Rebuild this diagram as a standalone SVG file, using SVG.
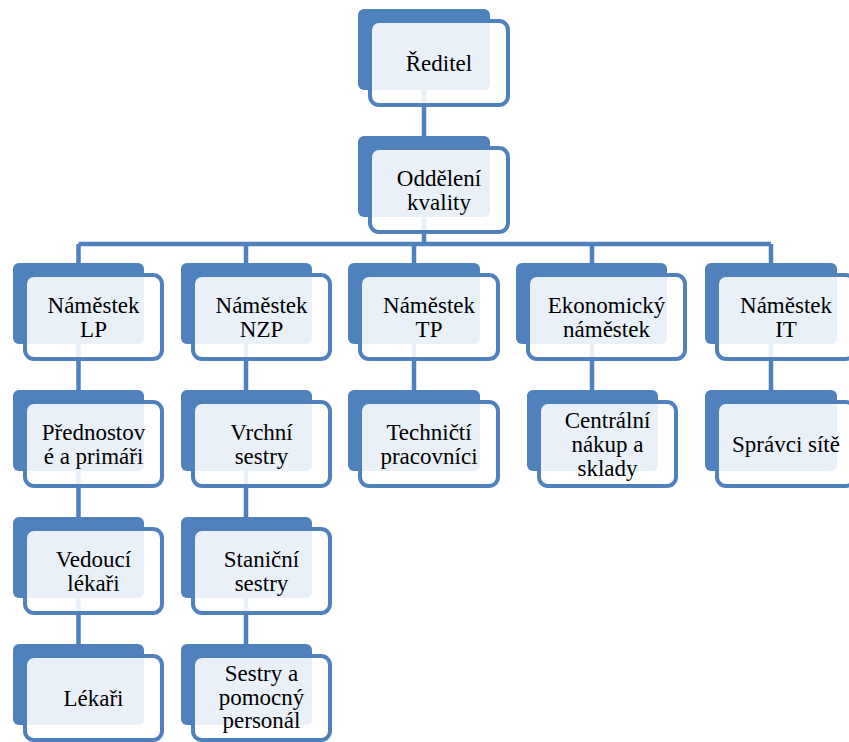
<svg xmlns="http://www.w3.org/2000/svg" width="849" height="742" viewBox="0 0 849 742">
<style>
.back{fill:#4f81bd;}
.front{fill:#ffffff;fill-opacity:0.88;stroke:#4f81bd;stroke-width:4;}
.conn{stroke:#4f81bd;stroke-width:4.5;fill:none;}
.t{font-size:23px;fill:#000000;text-anchor:middle;}
</style>
<rect width="849" height="742" fill="#ffffff"/>
<g id="connectors">
<path class="conn" d="M424 90V136M424 217V244M78.5 244H771M78.5 244V263M246 244V263M414 244V263M592 244V263M771 244V263"/>
<path class="conn" d="M78.5 344V390M78.5 471V517M78.5 598V644M246 344V390M246 471V517M246 598V644M414 344V390M592 344V390M771 344V390"/>
</g>
<g font-family="Liberation Serif, Times New Roman, serif" class="t">
<g id="reditel"><rect class="back" x="358" y="9" width="132" height="81" rx="6"/><rect class="front" x="370" y="21" width="138" height="84" rx="9"/><text x="439" y="71">Ředitel</text></g>
<g id="oddeleni-kvality"><rect class="back" x="358" y="136" width="132" height="81" rx="6"/><rect class="front" x="370" y="148" width="138" height="84" rx="9"/><text x="439" y="186">Oddělení</text><text x="439" y="209.5">kvality</text></g>
<g id="namestek-lp"><rect class="back" x="13" y="263" width="131" height="81" rx="6"/><rect class="front" x="25" y="275" width="137" height="84" rx="9"/><text x="93.5" y="313">Náměstek</text><text x="93.5" y="336.5">LP</text></g>
<g id="namestek-nzp"><rect class="back" x="181" y="263" width="131" height="81" rx="6"/><rect class="front" x="193" y="275" width="137" height="84" rx="9"/><text x="261.5" y="313">Náměstek</text><text x="261.5" y="336.5">NZP</text></g>
<g id="namestek-tp"><rect class="back" x="348" y="263" width="132" height="81" rx="6"/><rect class="front" x="360" y="275" width="138" height="84" rx="9"/><text x="429" y="313">Náměstek</text><text x="429" y="336.5">TP</text></g>
<g id="ekonomicky-namestek"><rect class="back" x="516" y="263" width="151" height="81" rx="6"/><rect class="front" x="528" y="275" width="157" height="84" rx="9"/><text x="606.5" y="313">Ekonomický</text><text x="606.5" y="336.5">náměstek</text></g>
<g id="namestek-it"><rect class="back" x="705" y="263" width="132" height="81" rx="6"/><rect class="front" x="717" y="275" width="138" height="84" rx="9"/><text x="786" y="313">Náměstek</text><text x="786" y="336.5">IT</text></g>
<g id="prednostove"><rect class="back" x="13" y="390" width="131" height="81" rx="6"/><rect class="front" x="25" y="402" width="137" height="84" rx="9"/><text x="93.5" y="440">Přednostov</text><text x="93.5" y="463.5">é a primáři</text></g>
<g id="vrchni-sestry"><rect class="back" x="181" y="390" width="131" height="81" rx="6"/><rect class="front" x="193" y="402" width="137" height="84" rx="9"/><text x="261.5" y="440">Vrchní</text><text x="261.5" y="463.5">sestry</text></g>
<g id="technicti-pracovnici"><rect class="back" x="348" y="390" width="132" height="81" rx="6"/><rect class="front" x="360" y="402" width="138" height="84" rx="9"/><text x="429" y="440">Techničtí</text><text x="429" y="463.5">pracovníci</text></g>
<g id="centralni-nakup"><rect class="back" x="527" y="390" width="131" height="81" rx="6"/><rect class="front" x="539" y="402" width="137" height="84" rx="9"/><text x="607.5" y="428">Centrální</text><text x="607.5" y="452">nákup a</text><text x="607.5" y="476">sklady</text></g>
<g id="spravci-site"><rect class="back" x="705" y="390" width="132" height="81" rx="6"/><rect class="front" x="717" y="402" width="138" height="84" rx="9"/><text x="786" y="452">Správci sítě</text></g>
<g id="vedouci-lekari"><rect class="back" x="13" y="517" width="131" height="81" rx="6"/><rect class="front" x="25" y="529" width="137" height="84" rx="9"/><text x="93.5" y="567">Vedoucí</text><text x="93.5" y="590.5">lékaři</text></g>
<g id="stanicni-sestry"><rect class="back" x="181" y="517" width="131" height="81" rx="6"/><rect class="front" x="193" y="529" width="137" height="84" rx="9"/><text x="261.5" y="567">Staniční</text><text x="261.5" y="590.5">sestry</text></g>
<g id="lekari"><rect class="back" x="13" y="644" width="131" height="81" rx="6"/><rect class="front" x="25" y="656" width="137" height="84" rx="9"/><text x="93.5" y="706">Lékaři</text></g>
<g id="sestry-personal"><rect class="back" x="181" y="644" width="131" height="81" rx="6"/><rect class="front" x="193" y="656" width="137" height="84" rx="9"/><text x="261.5" y="681">Sestry a</text><text x="261.5" y="704.5">pomocný</text><text x="261.5" y="728">personál</text></g>
</g>
</svg>
